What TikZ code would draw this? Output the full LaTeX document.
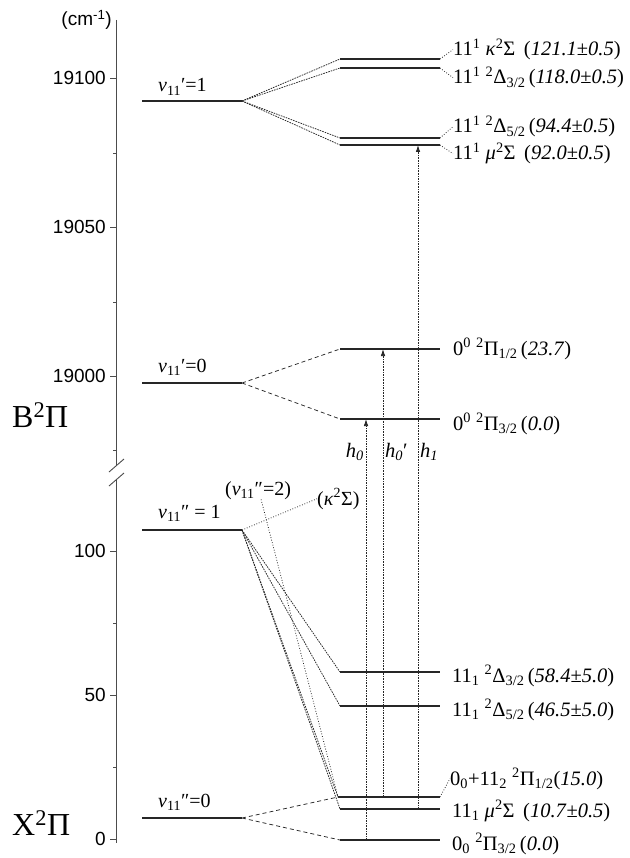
\documentclass[tikz,border=0pt]{standalone}
\usepackage{fontspec}
\setmainfont{Liberation Serif}
\setsansfont{Liberation Sans}
\usetikzlibrary{arrows.meta,positioning}
\tikzset{
	axis/.style={line width=0.9pt, draw=black!70},
	lvl/.style={line width=1.2pt, draw=black!85},
	wide dash/.style={line width=0.75pt, draw=black!85, dash pattern=on 4pt off 3pt},
	fine dash/.style={line width=0.75pt, draw=black!85, dash pattern=on 1.6pt off 1pt},
	dotline/.style={line width=0.8pt, draw=black!85, dash pattern=on 0.8pt off 1.8pt},
	trans/.style={fine dash, -{Latex[length=7pt,width=4.5pt]}},
	lab/.style={inner sep=0pt, font=\fontsize{20.5}{22}\selectfont},
	vlab/.style={inner sep=0pt, anchor=base west, font=\fontsize{20}{22}\selectfont},
	axlab/.style={inner sep=0pt, anchor=east, font=\sffamily\fontsize{19}{21}\selectfont},
	term/.style={inner sep=0pt, anchor=base west, font=\fontsize{32}{36}\selectfont}
}

\begin{document}
\begin{tikzpicture}[x=1pt,y=-1pt]
  \useasboundingbox (0,0) rectangle (629,858);
  % energy axis with break
  \draw[axis] (116.5,20) -- (116.5,465);
  \draw[axis] (116.5,479) -- (116.5,843);
  \draw[axis] (109,472) -- (124,459) (109,486) -- (124,473);
  \foreach \y/\t in {78/19100,227/19050,376/19000,551/100,695/50,839/0}{
    \draw[axis] (110,\y) -- (116.5,\y);
    \node[axlab] (t\t) at (106,\y) {\t};
  }
  \foreach \y in {153,302,450,623,767}
    \draw[axis] (113,\y) -- (116.5,\y);
  \node[inner sep=0pt, anchor=base east, font=\sffamily\fontsize{19}{21}\selectfont] (unit) at (112,26) {(cm\textsuperscript{-1})};
  \node[term] (B) at (12,427) {B\textsuperscript{2}Π};
  \node[term] (X) at (12,835) {X\textsuperscript{2}Π};

  % B state levels
  \draw[lvl] (142,101) coordinate (V1l) -- (242,101) coordinate (V1r);
  \draw[lvl] (142,383) coordinate (V0l) -- (242,383) coordinate (V0r);
  \draw[lvl] (340,59)  coordinate (Kl)  -- (440,59)  coordinate (Kr);
  \draw[lvl] (340,68)  coordinate (Dal) -- (440,68)  coordinate (Dar);
  \draw[lvl] (340,138) coordinate (Dbl) -- (440,138) coordinate (Dbr);
  \draw[lvl] (340,145) coordinate (Ml)  -- (440,145) coordinate (Mr);
  \draw[lvl] (340,349) coordinate (Pal) -- (440,349) coordinate (Par);
  \draw[lvl] (340,419) coordinate (Pbl) -- (440,419) coordinate (Pbr);
  \node[vlab] (v1) at (158,92)  {\textit{v}\textsubscript{11}′=1};
  \node[vlab] (v0) at (158,372) {\textit{v}\textsubscript{11}′=0};
  \foreach \e in {Kl,Dal,Dbl,Ml} \draw[fine dash] (V1r) -- (\e);
  \draw[wide dash] (V0r) -- (Pal) (V0r) -- (Pbl);
  \node[lab, anchor=base west] (LK) at (453,56)  {11\textsuperscript{1} \textit{κ}\textsuperscript{2}Σ\, (\textit{121.1}±\textit{0.5})};
  \node[lab, anchor=base west] (LDa) at (453,84) {11\textsuperscript{1} \textsuperscript{2}Δ\textsubscript{3/2}\,(\textit{118.0}±\textit{0.5})};
  \node[lab, anchor=base west] (LDb) at (453,133) {11\textsuperscript{1} \textsuperscript{2}Δ\textsubscript{5/2}\,(\textit{94.4}±\textit{0.5})};
  \node[lab, anchor=base west] (LM) at (453,160) {11\textsuperscript{1} \textit{μ}\textsuperscript{2}Σ\, (\textit{92.0}±\textit{0.5})};
  \node[lab, anchor=base west] (LPa) at (453,355) {0\textsuperscript{0} \textsuperscript{2}Π\textsubscript{1/2}\,(\textit{23.7})};
  \node[lab, anchor=base west] (LPb) at (453,430) {0\textsuperscript{0} \textsuperscript{2}Π\textsubscript{3/2}\,(\textit{0.0})};
  \draw[dotline] (Kr) -- (LK.west) (Dar) -- (LDa.west) (Dbr) -- (LDb.west) (Mr) -- (LM.west);

  % X state levels
  \draw[lvl] (142,530) coordinate (W1l) -- (242,530) coordinate (W1r);
  \draw[lvl] (142,818) coordinate (W0l) -- (242,818) coordinate (W0r);
  \draw[lvl] (340,672) coordinate (Sal) -- (440,672) coordinate (Sar);
  \draw[lvl] (340,706) coordinate (Sbl) -- (440,706) coordinate (Sbr);
  \draw[lvl] (338,797) coordinate (Qal) -- (440,797) coordinate (Qar);
  \draw[lvl] (340,809) coordinate (Nl)  -- (440,809) coordinate (Nr);
  \draw[lvl] (340,840) coordinate (Qbl) -- (440,840) coordinate (Qbr);
  \node[vlab] (w1) at (158,518) {\textit{v}\textsubscript{11}″ = 1};
  \node[vlab] (w0) at (158,807) {\textit{v}\textsubscript{11}″=0};
  \node[vlab] (w2) at (225,495) {(\textit{v}\textsubscript{11}″=2)};
  \node[vlab] (kap) at (317,505) {(\textit{κ}\textsuperscript{2}Σ)};
  \foreach \e in {Sal,Sbl,Qal,Nl} \draw[fine dash] (W1r) -- (\e);
  \draw[dotline] (W1r) -- (kap.west);
  \draw[dotline] ([xshift=3pt]w2.south) -- (Qal);
  \draw[wide dash] (W0r) -- (Qal) (W0r) -- (Qbl);
  \node[lab, anchor=base west] (LSa) at (452,682) {11\textsubscript{1} \textsuperscript{2}Δ\textsubscript{3/2}\,(\textit{58.4}±\textit{5.0})};
  \node[lab, anchor=base west] (LSb) at (452,716) {11\textsubscript{1} \textsuperscript{2}Δ\textsubscript{5/2}\,(\textit{46.5}±\textit{5.0})};
  \node[lab, anchor=base west] (LQa) at (450,785) {0\textsubscript{0}+11\textsubscript{2} \textsuperscript{2}Π\textsubscript{1/2}(\textit{15.0})};
  \node[lab, anchor=base west] (LN) at (452,817) {11\textsubscript{1} \textit{μ}\textsuperscript{2}Σ\, (\textit{10.7}±\textit{0.5})};
  \node[lab, anchor=base west] (LQb) at (452,850) {0\textsubscript{0} \textsuperscript{2}Π\textsubscript{3/2}\,(\textit{0.0})};
  \draw[dotline] (Qar) -- (LQa.west);

  % transitions
  \coordinate (h0b) at (366,840);  \coordinate (h0t) at (366,419);
  \coordinate (h0pb) at (383,797); \coordinate (h0pt) at (383,349);
  \coordinate (h1b) at (418,809);  \coordinate (h1t) at (418,145);
  \draw[trans] (h0b) -- (h0t);
  \draw[trans] (h0pb) -- (h0pt);
  \draw[trans] (h1b) -- (h1t);
  \node[lab, anchor=base east] (h0) at (364,457) {\textit{h}\textsubscript{\textit{0}}};
  \node[lab, anchor=base west] (h0p) at (385,457) {\textit{h}\textsubscript{\textit{0}}′};
  \node[lab, anchor=base west] (h1) at (420,457) {\textit{h}\textsubscript{\textit{1}}};
\end{tikzpicture}
\end{document}
